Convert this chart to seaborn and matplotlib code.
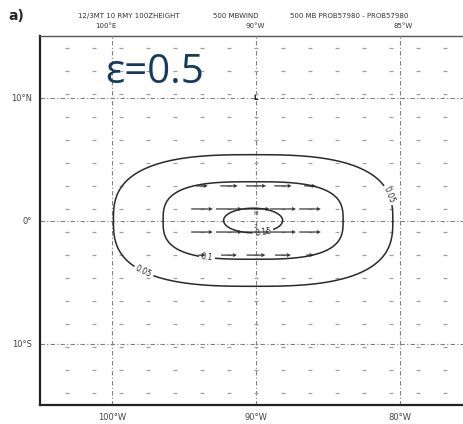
import numpy as np
import matplotlib
matplotlib.use("Agg")
import matplotlib.pyplot as plt
import seaborn as sns

# ---- data ----------------------------------------------------------------
# model grid (1.875 deg spacing)
grid_lons = [-103.125, -101.25, -99.375, -97.5, -95.625, -93.75, -91.875, -90.0,
             -88.125, -86.25, -84.375, -82.5, -80.625, -78.75, -76.875]
grid_lats = [14.0625, 12.1875, 10.3125, 8.4375, 6.5625, 4.6875, 2.8125, 0.9375,
             -0.9375, -2.8125, -4.6875, -6.5625, -8.4375, -10.3125, -12.1875, -14.0625]

# 500 mb wind: eastward components near the centre
wind_lats = [2.8125, 0.9375, -0.9375, -2.8125]
wind_lons = [-93.75, -91.875, -90.0, -88.125, -86.25]
wind_u = [[0.8, 1.2, 1.4, 1.2, 0.8],
          [1.5, 1.8, 1.9, 1.8, 1.5],
          [1.5, 1.8, 1.9, 1.8, 1.5],
          [0.5, 1.1, 1.3, 1.1, 0.5]]

# probability contours: level, centre lon/lat, semi-axes (deg), squareness
contour_levels = [0.05, 0.1, 0.15]
contour_labels = ["0.05", "0.1", "0.15"]
contour_center = (-90.2, 0.0)
contour_semi_lon = [9.7, 6.25, 2.05]
contour_semi_lat = [5.35, 3.15, 1.0]
contour_power = [2.8, 3.0, 2.0]
label_spots = [[(-80.9, 2.0), (-97.7, -3.9)], [(-93.4, -3.0)], [(-89.5, -1.0)]]

xtick_vals = [-100, -90, -80]
xtick_text = ["100°W", "90°W", "80°W"]
ytick_vals = [10, 0, -10]
ytick_text = ["10°N", "0°", "10°S"]

# ---- figure --------------------------------------------------------------
sns.set_style("white")
plt.rcParams["font.family"] = ["DejaVu Sans"]

W, H = 463, 424
fig = plt.figure(figsize=(W / 100, H / 100), dpi=100)
fig.patch.set_facecolor("white")
ax = fig.add_axes([40 / W, 1 - 405 / H, 432 / W, 369 / H])
ax.set_xlim(-105, -75)
ax.set_ylim(-15, 15)

# lat/lon reference lines
for v in xtick_vals:
    ax.axvline(v, color="#808080", lw=0.8, ls=(0, (4, 2, 1, 2)), zorder=1)
for v in ytick_vals:
    ax.axhline(v, color="#808080", lw=0.8, ls=(0, (4, 2, 1, 2)), zorder=1)

# grid-point wind marks (near-calm)
gx, gy = np.meshgrid(grid_lons, grid_lats)
sns.scatterplot(x=gx.ravel(), y=gy.ravel(), marker="_", s=5, color="#a0a0a0",
                linewidth=0.9, ax=ax, legend=False, zorder=2)

# stronger winds near the centre
wx, wy = np.meshgrid(wind_lons, wind_lats)
wu = np.array(wind_u)
ax.quiver(wx, wy, wu, np.zeros_like(wu), angles="xy", scale_units="xy", scale=1,
          pivot="middle", width=0.0028, headwidth=3.5, headlength=3.5,
          headaxislength=3, color="#333333", zorder=3)

# probability contours
cx = np.linspace(-105, -75, 601)
cy = np.linspace(-15, 15, 601)
CX, CY = np.meshgrid(cx, cy)
for lev, txt, a, b, p, spots in zip(contour_levels, contour_labels, contour_semi_lon,
                                    contour_semi_lat, contour_power, label_spots):
    s = (np.abs(CX - contour_center[0]) / a) ** p + (np.abs(CY - contour_center[1]) / b) ** p
    cs = ax.contour(CX, CY, s, levels=[1.0], colors="#2a2a2a", linewidths=1.1, zorder=4)
    ax.clabel(cs, fmt={1.0: txt}, manual=spots, fontsize=5.5, inline=True,
              inline_spacing=2)

# centre marks
ax.text(-90.0, 0.55, "H", fontsize=4.5, ha="center", va="center", color="#333333", zorder=5)
ax.text(-90.0, -0.45, "2", fontsize=4.5, ha="center", va="center", color="#333333", zorder=5)
ax.text(-90.0, 10.0, "L", fontsize=5, ha="center", va="center", color="#111111",
        fontweight="bold", zorder=5)

# axes styling
ax.set_xticks(xtick_vals)
ax.set_xticklabels(xtick_text, fontsize=6, color="#444444")
ax.set_yticks(ytick_vals)
ax.set_yticklabels(ytick_text, fontsize=6, color="#444444")
ax.tick_params(length=0, pad=6)
for side in ["left", "bottom"]:
    ax.spines[side].set_color("#222222")
    ax.spines[side].set_linewidth(1.6)
ax.spines["top"].set_color("#555555")
ax.spines["top"].set_linewidth(1.0)
ax.spines["right"].set_visible(False)

# header
fig.text(8 / W, 1 - 16 / H, "a)", fontsize=10, fontweight="bold", va="center", ha="left")
hdr = dict(fontsize=5, color="#333333", va="center", ha="left")
fig.text(78 / W, 1 - 16 / H, "12/3MT 10 RMY 100ZHEIGHT", **hdr)
fig.text(213 / W, 1 - 16 / H, "500 MBWIND", **hdr)
fig.text(290 / W, 1 - 16 / H, "500 MB PROB57980 - PROB57980", **hdr)
fig.text(95 / W, 1 - 26 / H, "100°E", **hdr)
fig.text(245 / W, 1 - 26 / H, "90°W", **hdr)
fig.text(393 / W, 1 - 26 / H, "85°W", **hdr)

# parameter annotation
fig.text(105 / W, 1 - 83 / H, "ε=0.5", fontsize=29, color="#163a5f",
         family=["Open Sans", "DejaVu Sans"], va="baseline", ha="left")

fig.savefig("out.png", dpi=100, facecolor="white")
